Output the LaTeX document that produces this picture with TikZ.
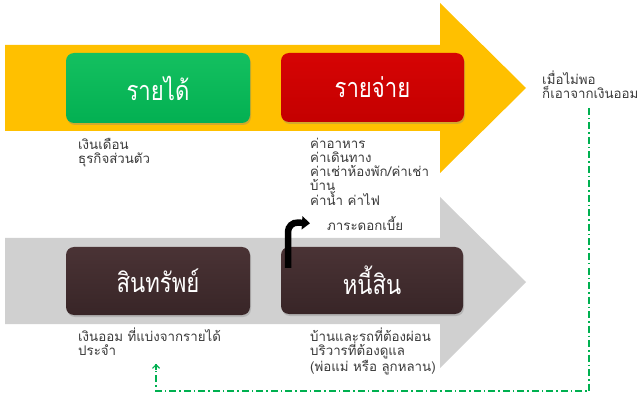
\documentclass[tikz,border=0pt]{standalone}
\usepackage{fontspec}
\newfontfamily\thai[Script=Thai]{Loma}
\newfontfamily\thaititle[Script=Thai,FakeStretch=0.82]{Loma}
\usetikzlibrary{arrows.meta,shadows}
\definecolor{arrowyellow}{HTML}{FFC000}
\definecolor{arrowgray}{HTML}{D0D0D0}
\definecolor{boxgreenT}{HTML}{14C060}
\definecolor{boxgreenB}{HTML}{03B052}
\definecolor{boxredT}{HTML}{D60404}
\definecolor{boxredB}{HTML}{C40000}
\definecolor{boxdarkT}{HTML}{4A3335}
\definecolor{boxdarkB}{HTML}{382527}
\definecolor{labelgray}{HTML}{3A3A3A}
\definecolor{linegreen}{HTML}{00B050}
\tikzset{
  titlebox/.style={rectangle, rounded corners=8pt, inner sep=0pt,
    text=white, font=\thaititle\fontsize{27}{30}\selectfont,
    drop shadow={opacity=0.35, shadow xshift=1pt, shadow yshift=-2pt}},
  labeltext/.style={anchor=north west, inner sep=0pt, align=left,
    text=labelgray, font=\thai\fontsize{13.3}{14}\selectfont},
  bigarrow/.style={draw=none},
  greenlink/.style={draw=linegreen, line width=1.1pt,
    dash pattern=on 7pt off 3pt on 1.5pt off 3pt},
  bentarrow/.style={draw=black, line width=6.5pt, rounded corners=10pt,
    -{Triangle[length=8pt,width=13pt]}}
}
\begin{document}
\begin{tikzpicture}[x=1pt,y=-1pt]
\useasboundingbox (0,0) rectangle (638,401);
\fill[white] (0,0) rectangle (638,401);
% big arrows
\fill[bigarrow, arrowyellow] (5,45) -- (440,45) -- (440,3) -- (526,88) -- (440,173) -- (440,131) -- (5,131) -- cycle;
\fill[bigarrow, arrowgray] (5,238) -- (440,238) -- (440,197) -- (526,282) -- (440,368) -- (440,324) -- (5,324) -- cycle;
% boxes
\node[titlebox, top color=boxgreenT, bottom color=boxgreenB, minimum width=184pt, minimum height=70pt] (income) at (158,88) {รายได้};
\node[titlebox, top color=boxredT, bottom color=boxredB, minimum width=183pt, minimum height=69pt] (expense) at (372.5,87.5) {รายจ่าย};
\node[titlebox, top color=boxdarkT, bottom color=boxdarkB, minimum width=184pt, minimum height=68pt] (assets) at (158,281) {สินทรัพย์};
\node[titlebox, top color=boxdarkT, bottom color=boxdarkB, minimum width=182pt, minimum height=67pt] (debt) at (372,280.5) {หนี้สิน};
% labels
\node[labeltext] (incomelbl) at (78,138) {เงินเดือน\\ธุรกิจส่วนตัว};
\node[labeltext] (expenselbl) at (310,138) {ค่าอาหาร\\ค่าเดินทาง\\ค่าเช่าห้องพัก/ค่าเช่า\\บ้าน\\ค่าน้ำ ค่าไฟ};
\node[labeltext] (assetslbl) at (78,328) {เงินออม ที่แบ่งจากรายได้\\ประจำ};
\node[labeltext] (debtlbl) at (310,328) {บ้านและรถที่ต้องผ่อน\\บริวารที่ต้องดูแล\\(พ่อแม่ หรือ ลูกหลาน)};
\node[labeltext] (interest) at (327,216) {ภาระดอกเบี้ย};
\node[labeltext] (notenough) at (542,71) {เมื่อไม่พอ\\ก็เอาจากเงินออม};
% bent black arrow
\coordinate (bentstart) at (288,268);
\draw[bentarrow] (bentstart) -- (288,222) -- (interest.west -| 310,0);
% green dash-dot link
\coordinate (gtop) at (589,108);
\coordinate (gcorner) at (589,391);
\coordinate (gend) at (156,364);
\draw[greenlink] (gtop) -- (gcorner) -| (gend);
\draw[draw=linegreen, line width=1.2pt, -{Straight Barb[length=3.5pt,width=7pt]}] ([yshift=-6pt]gend) -- (gend);
\end{tikzpicture}
\end{document}
